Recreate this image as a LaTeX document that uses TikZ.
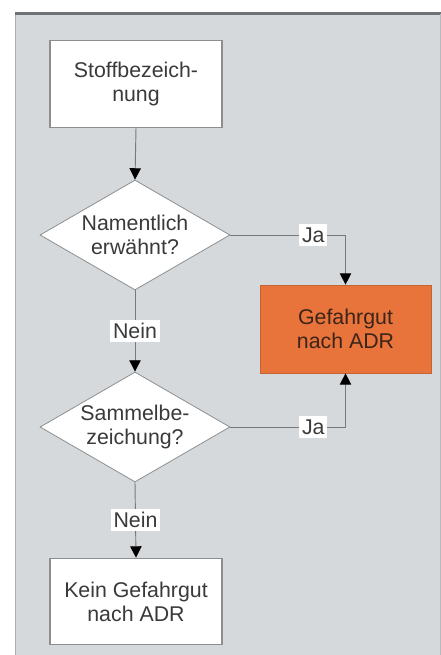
\documentclass[tikz,border=0pt]{standalone}
\usepackage{fontspec}
\setmainfont{Liberation Sans}
\usetikzlibrary{shapes.geometric,arrows.meta}
\definecolor{bggray}{HTML}{D5D9DC}
\definecolor{topline}{HTML}{6E7072}
\definecolor{leftline}{HTML}{A9ADB0}
\definecolor{boxline}{HTML}{8C8E90}
\definecolor{connline}{HTML}{77797B}
\definecolor{txtgray}{HTML}{3A3A3A}
\definecolor{orangefill}{HTML}{E8743C}
\definecolor{orangetxt}{HTML}{3B2418}
\tikzset{
  every node/.style={font=\fontsize{16}{18}\selectfont, text=txtgray, align=center},
  whitebox/.style={draw=boxline, line width=0.8pt, fill=white, minimum width=129pt, minimum height=65pt, inner sep=0pt},
  orangebox/.style={draw=orangefill!85!black, line width=0.5pt, fill=orangefill, text=orangetxt, minimum width=128pt, minimum height=66pt, inner sep=0pt},
  decision/.style={diamond, draw=boxline, line width=0.6pt, fill=white, aspect=1.727, minimum width=142.5pt, minimum height=82.5pt, inner sep=0pt},
  lbl/.style={fill=white, inner xsep=2pt, inner ysep=2.5pt},
  conn/.style={draw=connline, line width=0.7pt, -{Triangle[width=8.5pt,length=8.5pt,fill=black,color=black]}},
  plainconn/.style={draw=connline, line width=0.7pt}
}
\begin{document}
\begin{tikzpicture}[x=0.75pt,y=-0.75pt]
\useasboundingbox (0,0) rectangle (441,655);
\fill[bggray] (15,13) rectangle (441,655);
\draw[leftline, line width=1.2pt] (15.5,13) -- (15.5,655);
\draw[topline, line width=1.6pt] (15,13.5) -- (441,13.5);
\draw[leftline!70!bggray, line width=0.6pt] (440.5,14) -- (440.5,655);

\node[whitebox] (start) at (136,84) {Stoffbezeich-\\nung};
\node[decision] (d1) at (135,235) {Namentlich\\erwähnt?};
\node[decision] (d2) at (135,427) {Sammelbe-\\zeichung?};
\node[orangebox] (adr) at (345.5,329) {Gefahrgut\\nach ADR};
\node[whitebox] (kein) at (136,601.5) {Kein Gefahrgut\\nach ADR};

\draw[conn] (start.south) -- (d1.north);
\draw[conn] (d1.south) -- node[lbl]{Nein} (d2.north);
\draw[conn] (d2.south) -- node[lbl]{Nein} (kein.north);
\draw[conn] (d1.east) -- node[lbl, pos=0.72]{Ja} (d1.east -| adr.north) -- (adr.north);
\draw[conn] (d2.east) -- node[lbl, pos=0.72]{Ja} (d2.east -| adr.south) -- (adr.south);
\end{tikzpicture}
\end{document}
